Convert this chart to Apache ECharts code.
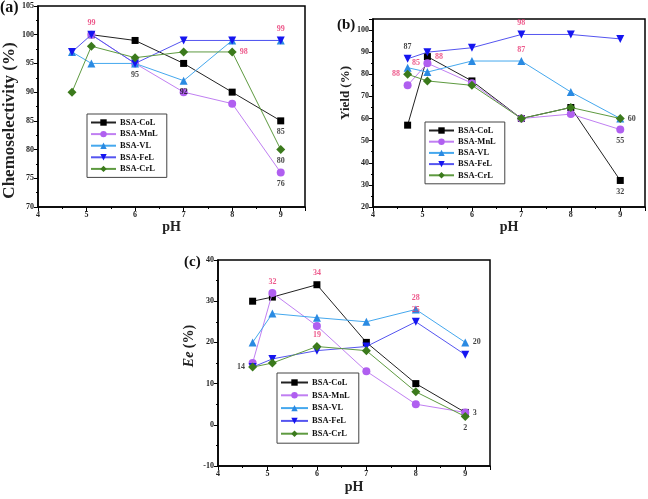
<!DOCTYPE html>
<html><head><meta charset="utf-8">
<script src="https://cdn.jsdelivr.net/npm/echarts@6/dist/echarts.min.js"></script>
<style>html,body{margin:0;padding:0;background:#fff}#c{width:648px;height:499px}</style>
</head><body><div id="c"></div>
<script>
const xVals = [4.7, 5.1, 6, 7, 8, 9];
const names = ['BSA-CoL', 'BSA-MnL', 'BSA-VL', 'BSA-FeL', 'BSA-CrL'];
// (a) Chemoselectivity (%)
const chemoCoL = [null, 100, 99, 95, 90, 85];
const chemoMnL = [null, 100, 95, 90, 88, 76];
const chemoVL  = [97, 95, 95, 92, 99, 99];
const chemoFeL = [97, 100, 95, 99, 99, 99];
const chemoCrL = [90, 98, 96, 97, 97, 80];
// (b) Yield (%)
const yieldCoL = [57, 88, 77, 60, 65, 32];
const yieldMnL = [75, 85, 76, 60, 62, 55];
const yieldVL  = [83, 81, 86, 86, 72, 60];
const yieldFeL = [87, 90, 92, 98, 98, 96];
const yieldCrL = [80, 77, 75, 60, 65, 60];
// (c) Ee (%)
const eeCoL = [30, 31, 34, 20, 10, 3];
const eeMnL = [15, 32, 24, 13, 5, 3];
const eeVL  = [20, 27, 26, 25, 28, 20];
const eeFeL = [14, 16, 18, 19, 25, 17];
const eeCrL = [14, 15, 19, 18, 8, 2];
// point annotations: [series, point index, text]
const notesA = [['BSA-FeL',1,'99'],['BSA-FeL',2,'95'],['BSA-VL',3,'92'],['BSA-CrL',4,'98'],['BSA-FeL',5,'99'],['BSA-CoL',5,'85'],['BSA-CrL',5,'80'],['BSA-MnL',5,'76']];
const notesB = [['BSA-FeL',0,'87'],['BSA-CrL',0,'88'],['BSA-MnL',1,'85'],['BSA-CoL',1,'88'],['BSA-FeL',3,'98'],['BSA-VL',3,'87'],['BSA-CrL',5,'60'],['BSA-MnL',5,'55'],['BSA-CoL',5,'32']];
const notesC = [['BSA-CrL',0,'14'],['BSA-MnL',1,'32'],['BSA-CoL',2,'34'],['BSA-CrL',2,'19'],['BSA-VL',4,'28'],['BSA-FeL',4,'25'],['BSA-VL',5,'20'],['BSA-MnL',5,'3'],['BSA-CrL',5,'2']];

const PINK = '#e8306e', DARK = '#111';
const styleA = [['top',PINK],['bottom',DARK],['bottom',DARK],['right',PINK,[-4,-6]],['top',PINK],['bottom',DARK],['bottom',DARK],['bottom',DARK]];
const styleB = [['top',DARK],['left',PINK],['left',PINK,[4,0]],['right',PINK],['top',PINK],['top',PINK],['right',DARK,[0,3]],['bottom',DARK],['bottom',DARK]];
const styleC = [['left',DARK],['top',PINK],['top',PINK],['top',PINK],['top',PINK],['top',PINK],['right',DARK],['right',DARK],['bottom',DARK]];

const SERIF = '"Liberation Serif", "DejaVu Serif", serif';
const sty = {
  'BSA-CoL': {sym: 'rect', size: 7, mc: '#000', lc: '#222'},
  'BSA-MnL': {sym: 'circle', size: 8, mc: '#b05ff0', lc: '#c07ff2'},
  'BSA-VL':  {sym: 'triangle', size: 8, mc: '#2a8ae2', lc: '#45a8ee'},
  'BSA-FeL': {sym: 'triangle', size: 8, mc: '#1515f0', lc: '#5555f0', rot: 180},
  'BSA-CrL': {sym: 'diamond', size: 9, mc: '#3b7a1c', lc: '#5e9a40'}
};
const panels = [
  {vals: [chemoCoL, chemoMnL, chemoVL, chemoFeL, chemoCrL], notes: notesA, st: styleA},
  {vals: [yieldCoL, yieldMnL, yieldVL, yieldFeL, yieldCrL], notes: notesB, st: styleB},
  {vals: [eeCoL, eeMnL, eeVL, eeFeL, eeCrL], notes: notesC, st: styleC}
];
const series = [];
panels.forEach((p, pi) => {
  names.forEach((n, si) => {
    const s = sty[n];
    const data = [];
    p.vals[si].forEach((v, i) => { if (v !== null) data.push([xVals[i], v]); });
    series.push({
      name: n, type: 'line', xAxisIndex: pi, yAxisIndex: pi, data: data,
      symbol: s.sym, symbolSize: s.size, symbolRotate: s.rot || 0,
      itemStyle: {color: s.mc}, lineStyle: {color: s.lc, width: 1},
      animation: false, z: 2 + si
    });
  });
  // annotation labels placed on the data points through the same axes
  const adata = p.notes.map((nt, k) => {
    const si = names.indexOf(nt[0]);
    const ls = p.st[k];
    return {value: [xVals[nt[1]], p.vals[si][nt[1]]],
      label: {show: true, formatter: nt[2], position: ls[0], color: ls[1], offset: ls[2] || [0, 0],
        distance: 3.5, fontFamily: SERIF, fontWeight: 'bold', fontSize: 8}};
  });
  series.push({type: 'scatter', name: 'notes' + pi, xAxisIndex: pi, yAxisIndex: pi, data: adata,
    symbol: 'circle', symbolSize: 8, itemStyle: {color: 'rgba(0,0,0,0)'}, silent: true,
    labelLayout: {hideOverlap: false}, z: 30, animation: false});
});

const axisCommon = {
  axisLine: {onZero: false, lineStyle: {color: '#000', width: 1.5}},
  axisTick: {show: true, length: 4, inside: false, lineStyle: {color: '#000'}},
  minorTick: {show: true, splitNumber: 2, length: 2, lineStyle: {color: '#000'}},
  splitLine: {show: false},
  axisLabel: {color: '#222', fontFamily: SERIF, fontWeight: 'bold', fontSize: 8, margin: 4}
};
function xAx(gi, gap) {
  return Object.assign({}, axisCommon, {type: 'value', gridIndex: gi, min: 4, max: 9.5, interval: 1,
    name: 'pH', nameLocation: 'middle', nameGap: gap,
    nameTextStyle: {fontFamily: SERIF, fontWeight: 'bold', fontSize: 14, color: '#222'},
    axisLabel: Object.assign({}, axisCommon.axisLabel, {formatter: v => (v > 9 ? '' : v)})});
}
function yAx(gi, min, max, interval, topLabel, name, size, gap, pad, rich) {
  const o = Object.assign({}, axisCommon, {type: 'value', gridIndex: gi, min: min, max: max, interval: interval,
    name: name, nameLocation: 'middle', nameGap: gap,
    nameTextStyle: {fontFamily: SERIF, fontWeight: 'bold', fontSize: size, color: '#222', padding: pad},
    axisLabel: Object.assign({}, axisCommon.axisLabel, {formatter: v => (v > topLabel ? '' : v)})});
  if (rich) o.nameTextStyle.rich = rich;
  return o;
}
const legendCommon = {
  orient: 'vertical', itemWidth: 25, itemHeight: 8,
  borderColor: '#444', borderWidth: 1, padding: [4, 9, 4, 3],
  textStyle: {fontFamily: SERIF, fontWeight: 'bold', fontSize: 8.5, lineHeight: 9, color: '#111', padding: [0, 0, 0, -1]},
  data: names
};

const option = {
  backgroundColor: '#fff',
  animation: false,
  grid: [
    {left: 36, top: 6, right: 343, bottom: 292, show: true, borderColor: '#000', borderWidth: 1.5},
    {left: 373, top: 19, right: 3, bottom: 292, show: true, borderColor: '#000', borderWidth: 1.5},
    {left: 218, top: 260, right: 158, bottom: 33, show: true, borderColor: '#000', borderWidth: 1.5}
  ],
  xAxis: [xAx(0, 12), xAx(1, 12), xAx(2, 14)],
  yAxis: [
    yAx(0, 70, 105, 5, 105, 'Chemoselectivity (%)', 17, 20, [0, 28, 0, 0]),
    yAx(1, 20, 105, 10, 100, 'Yield (%)', 13, 21, [0, 0, 0, 40]),
    yAx(2, -10, 40, 10, 40, '{i|Ee} (%)', 14, 22, [0, 0, 0, 34], {i: {fontFamily: SERIF, fontWeight: 'bold', fontStyle: 'italic', fontSize: 14, color: '#222'}})
  ],
  legend: [
    Object.assign({}, legendCommon, {left: 87, top: 114, itemGap: 2.6}),
    Object.assign({}, legendCommon, {left: 425, top: 122, itemGap: 2.2}),
    Object.assign({}, legendCommon, {left: 277, top: 373, itemGap: 3.8, itemWidth: 27, padding: [5, 9, 5, 3]})
  ],
  graphic: [
    {type: 'text', left: 0, top: 0, style: {text: '(a)', font: 'bold 16px ' + SERIF, fill: '#111'}},
    {type: 'text', left: 337, top: 18, style: {text: '(b)', font: 'bold 15px ' + SERIF, fill: '#111'}},
    {type: 'text', left: 184, top: 255, style: {text: '(c)', font: 'bold 15px ' + SERIF, fill: '#111'}}
  ],
  series: series
};
const chart = echarts.init(document.getElementById('c'), null, {renderer: 'canvas'});
chart.setOption(option);
</script>
</body></html>
